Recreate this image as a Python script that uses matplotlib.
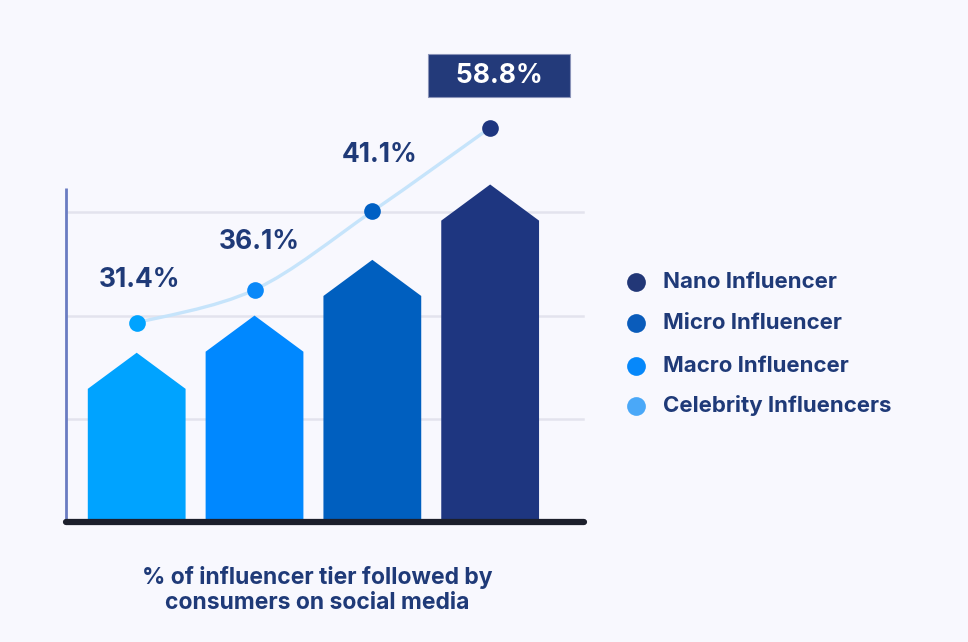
import matplotlib.pyplot as plt
from matplotlib.patches import Polygon, PathPatch
from matplotlib.path import Path

tiers = ["Celebrity Influencers", "Macro Influencer", "Micro Influencer", "Nano Influencer"]
share = [31.4, 36.1, 41.1, 58.8]        # printed labels (%)
bar_level = [12.9, 16.5, 21.9, 29.2]    # bar shoulder as drawn (chart units)
dot_level = [19.3, 22.5, 30.1, 38.2]    # trend dots as drawn (chart units)
grid_ticks = [10, 20, 30]
legend_order = ["Nano Influencer", "Micro Influencer", "Macro Influencer", "Celebrity Influencers"]
caption = "% of influencer tier followed by\nconsumers on social media"

BG = '#f8f8fe'
NAVY = '#1f3a78'
bar_colors = ['#00a3ff', '#0088ff', '#005fbf', '#1e3680']
legend_colors = ['#223777', '#0a5cbb', '#0688fa', '#4aa8f8']
FONT = 'Inter'


def curve_path(xs, ys):
    # catmull-rom through the dots, written as cubic beziers
    pts = list(zip(xs, ys))
    verts = [pts[0]]
    codes = [Path.MOVETO]
    n = len(pts)
    for i in range(n - 1):
        p0 = pts[max(i - 1, 0)]
        p1 = pts[i]
        p2 = pts[i + 1]
        p3 = pts[min(i + 2, n - 1)]
        c1 = (p1[0] + (p2[0] - p0[0]) / 6, p1[1] + (p2[1] - p0[1]) / 6)
        c2 = (p2[0] - (p3[0] - p1[0]) / 6, p2[1] - (p3[1] - p1[1]) / 6)
        verts += [c1, c2, p2]
        codes += [Path.CURVE4] * 3
    return Path(verts, codes)


def main():
    fig = plt.figure(figsize=(9.68, 6.42), dpi=100, facecolor=BG)
    ax = fig.add_axes([66 / 968, 1 - 522 / 642, 519 / 968, 482 / 642])
    ax.set_facecolor(BG)
    ax.set_xlim(-0.60, 3.805)
    ax.set_ylim(0, 46.7)
    ax.axis('off')

    x = list(range(len(tiers)))
    half = 0.415
    roof = 3.5

    for g in grid_ticks:
        ax.plot([-0.60, 3.79], [g, g], color='#e3e3ee', lw=1.8, zorder=1)
    # left axis line stops a little above the top gridline
    ax.plot([-0.60, -0.60], [0, 32.4], color='#6a7cc2', lw=2, zorder=2,
            solid_capstyle='butt', clip_on=False)

    for xi, top, c in zip(x, bar_level, bar_colors):
        shape = [(xi - half, 0), (xi - half, top), (xi, top + roof),
                 (xi + half, top), (xi + half, 0)]
        ax.add_patch(Polygon(shape, closed=True, facecolor=c, edgecolor='none', zorder=3))

    ax.plot([-0.60, 3.80], [0, 0], color='#1c1f2c', lw=4.5, solid_capstyle='round',
            zorder=4, clip_on=False)

    ax.add_patch(PathPatch(curve_path(x, dot_level), facecolor='none',
                           edgecolor='#c6e4fb', lw=2.4, zorder=5))
    dot_colors = ['#00a3ff', '#0a88f8', '#0060c4', '#1e3680']
    for xi, yi, c in zip(x, dot_level, dot_colors):
        ax.plot(xi, yi, 'o', ms=12, color=c, mec='none', zorder=6, clip_on=False)

    offsets = [(3, 43), (5, 48), (7, 56)]
    for xi, yi, v, off in zip(x[:3], dot_level[:3], share[:3], offsets):
        ax.annotate(f"{v}%", (xi, yi), xytext=off, textcoords='offset pixels',
                    ha='center', va='center', fontsize=19, fontweight='bold',
                    color=NAVY, family=FONT)
    ax.annotate(f"   {share[3]}%   ", (x[3], dot_level[3]), xytext=(9, 52),
                textcoords='offset pixels', ha='center', va='center',
                fontsize=19, fontweight='bold', color='white', family=FONT,
                bbox=dict(boxstyle='square,pad=0.32', facecolor='#233a7a',
                          edgecolor='#8a93b8', lw=0.8))

    # legend
    rows = [282, 323, 366, 406]
    for name, c, py in zip(legend_order, legend_colors, rows):
        fig.lines.append(plt.Line2D([636 / 968], [1 - py / 642], marker='o', ms=13.5,
                                    color=c, mec='none', transform=fig.transFigure))
        fig.text(663 / 968, 1 - py / 642, name, ha='left', va='center', fontsize=16,
                 fontweight='bold', color=NAVY, family=FONT)

    fig.text(317 / 968, 1 - 590 / 642, caption, ha='center', va='center',
             fontsize=16.5, fontweight='bold', color=NAVY, family=FONT,
             linespacing=1.15)

    fig.savefig('out.png', dpi=100, facecolor=BG)


main()
